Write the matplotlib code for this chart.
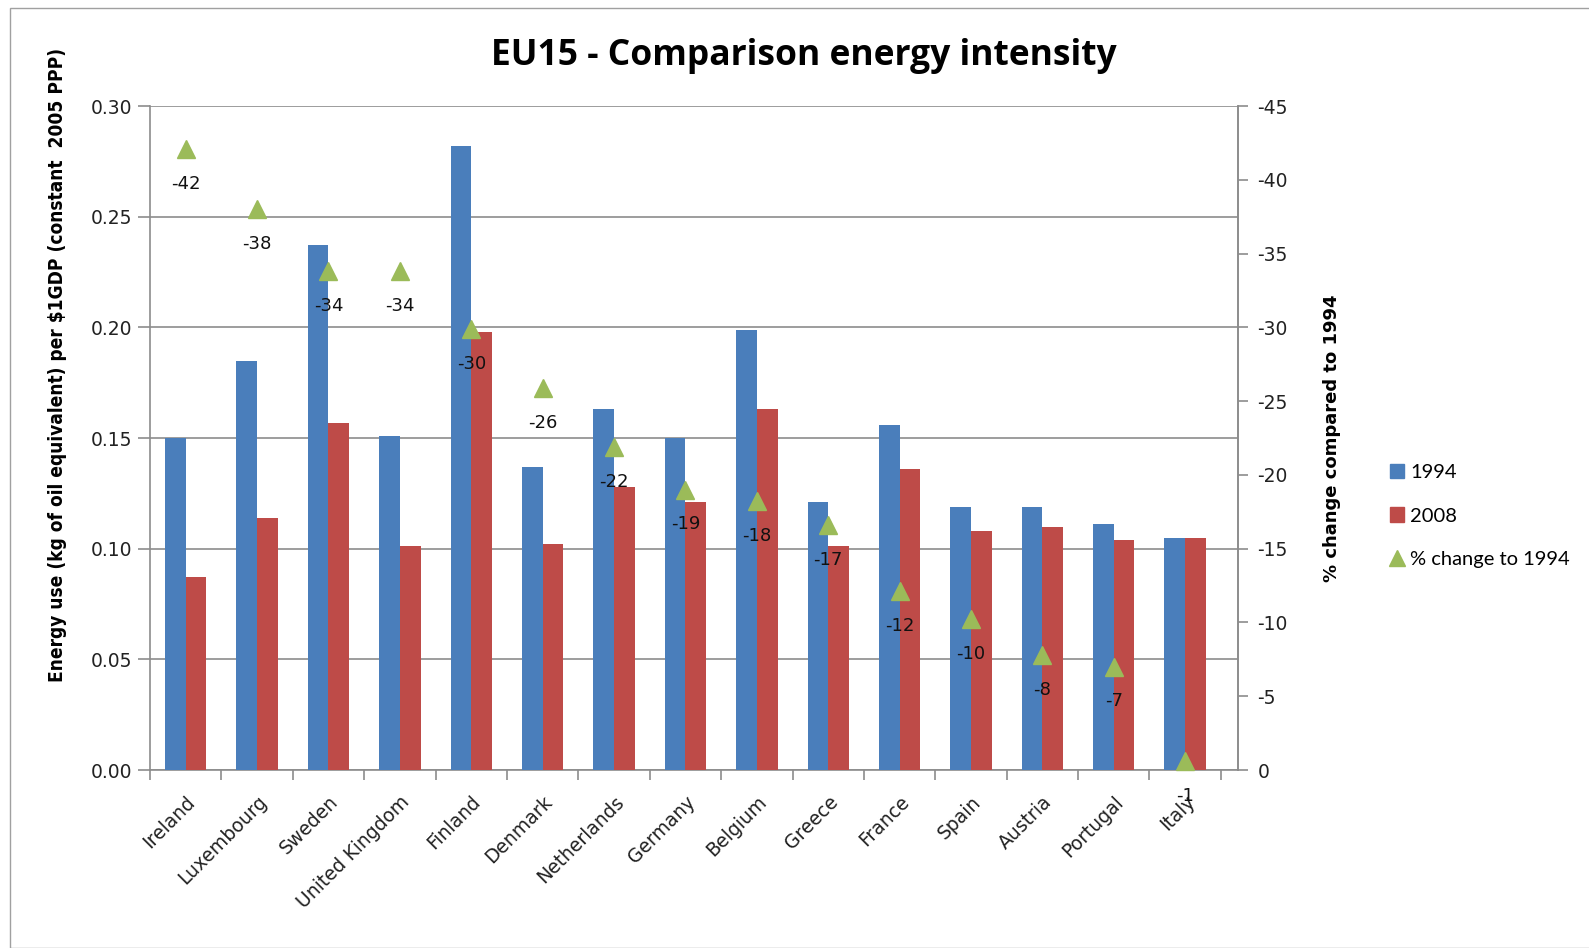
import matplotlib
matplotlib.use("Agg")
import matplotlib.pyplot as plt
import numpy as np
from matplotlib.patches import Patch, Rectangle
from matplotlib.lines import Line2D

countries = ["Ireland", "Luxembourg", "Sweden", "United Kingdom", "Finland", "Denmark",
             "Netherlands", "Germany", "Belgium", "Greece", "France", "Spain", "Austria",
             "Portugal", "Italy"]
values_1994 = [0.150, 0.185, 0.237, 0.151, 0.282, 0.137, 0.163, 0.150, 0.199, 0.121,
               0.156, 0.119, 0.119, 0.111, 0.105]
values_2008 = [0.087, 0.114, 0.157, 0.101, 0.198, 0.102, 0.128, 0.121, 0.163, 0.101,
               0.136, 0.108, 0.110, 0.104, 0.105]
pct_change = [-42.1, -38.0, -33.8, -33.8, -29.9, -25.9, -21.9, -19.0, -18.2, -16.6,
              -12.1, -10.2, -7.8, -7.0, -0.6]
left_ticks = [0.00, 0.05, 0.10, 0.15, 0.20, 0.25, 0.30]
right_ticks = [0, -5, -10, -15, -20, -25, -30, -35, -40, -45]

C_BLUE = "#4A7EBB"
C_RED = "#BE4B48"
C_GREEN = "#9BBB59"
C_AXIS = "#8C8C8C"

W, H = 1589, 948
fig = plt.figure(figsize=(W / 100, H / 100), dpi=100)
fig.patches.append(Rectangle((10 / W, 0), 2, 1 - 8 / H, transform=fig.transFigure,
                             fill=False, edgecolor="#A0A0A0", linewidth=1.0))

AX_L, AX_R, AX_T, AX_B = 150, 1238, 106, 770
ax = fig.add_axes([AX_L / W, 1 - AX_B / H, (AX_R - AX_L) / W, (AX_B - AX_T) / H])
n = len(countries)
x = np.arange(n)
bw = 0.29
ax.bar(x - bw / 2, values_1994, bw, color=C_BLUE, zorder=3)
ax.bar(x + bw / 2, values_2008, bw, color=C_RED, zorder=3)
ax.set_xlim(-0.5, n - 0.5 + 0.24)
ax.set_ylim(0, 0.30)
ax.set_yticks(left_ticks)
ax.set_yticklabels([f"{v:.2f}" for v in left_ticks], fontsize=13.5, color="#222222")
ax.yaxis.grid(True, color=C_AXIS, linewidth=1.2, zorder=0)
ax.set_axisbelow(True)
ax.tick_params(axis="y", direction="out", length=9, color=C_AXIS, width=1.2, pad=4)
ax.set_xticks(x)
ax.set_xticklabels(countries, rotation=45, ha="right", rotation_mode="anchor",
                   fontsize=13.5, color="#222222")
ax.set_xticks(np.arange(-0.5, n), minor=True)
ax.tick_params(axis="x", which="major", length=0, pad=16)
ax.tick_params(axis="x", which="minor", direction="out", length=7, color=C_AXIS, width=1.2)
ax.spines["top"].set_visible(False)
for s in ["left", "bottom", "right"]:
    ax.spines[s].set_color(C_AXIS)
    ax.spines[s].set_linewidth(1.2)

ax.set_ylabel("Energy use (kg of oil equivalent) per $1GDP (constant  2005 PPP)",
              fontsize=13.7, fontweight="bold", fontstretch="condensed")
ax.yaxis.set_label_coords(-83 / (AX_R - AX_L), 0.61)

ax2 = ax.twinx()
ax2.set_ylim(0, -45)
ax2.set_yticks(right_ticks)
ax2.set_yticklabels([str(v) for v in right_ticks], fontsize=13.5, color="#222222")
ax2.tick_params(axis="y", direction="out", length=7, color=C_AXIS, width=1.2, pad=7)
for s in ["top", "left", "bottom"]:
    ax2.spines[s].set_visible(False)
ax2.spines["right"].set_color(C_AXIS)
ax2.spines["right"].set_linewidth(1.2)
ax2.plot(x, pct_change, linestyle="none", marker="^", markersize=13, color=C_GREEN,
         zorder=5, clip_on=False)
for xi, v in zip(x, pct_change):
    lab = f"{round(v):d}" if round(v) != 0 else "-1"
    ax2.annotate(lab, (xi, v), xytext=(0, -25), textcoords="offset points",
                 ha="center", va="center", fontsize=13, color="#111111", zorder=6)
ax2.set_ylabel("% change compared to 1994", fontsize=13, fontweight="bold", labelpad=25)

fig.text(804 / W, 1 - 56 / H, "EU15 - Comparison energy intensity", ha="center",
         va="center", fontsize=25.5, fontweight="bold", family="Open Sans")

handles = [Patch(color=C_BLUE), Patch(color=C_RED),
           Line2D([], [], linestyle="none", marker="^", markersize=11, color=C_GREEN)]
fig.legend(handles, ["1994", "2008", "% change to 1994"], loc="center left",
           bbox_to_anchor=(1372 / W, 1 - 516 / H), frameon=False,
           handlelength=0.7, handleheight=0.7, handletextpad=0.3, labelspacing=1.3,
           prop={"family": "Lato", "size": 14.5})

fig.savefig("out.png", dpi=100)
